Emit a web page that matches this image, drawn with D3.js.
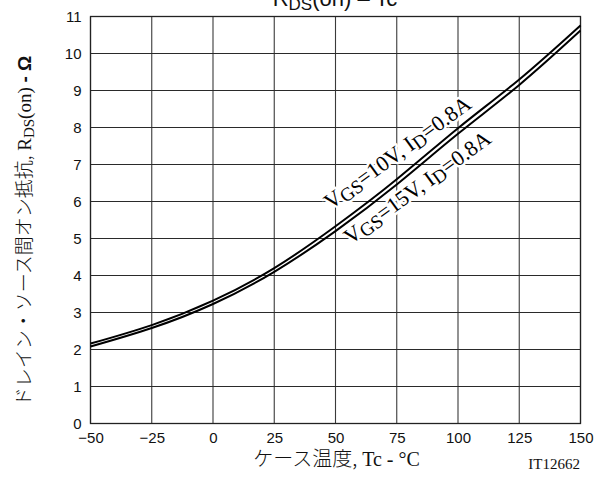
<!DOCTYPE html>
<html>
<head>
<meta charset="utf-8">
<script src="https://cdn.jsdelivr.net/npm/d3@7/dist/d3.min.js"></script>
<style>
  html, body { margin: 0; padding: 0; background: #fff; }
  svg { display: block; }
</style>
</head>
<body>
<svg id="chart" width="601" height="477"></svg>
<script>
// ---- data ----
const temps = [-50, -25, 0, 25, 50, 75, 100, 125, 150];
const rdsVgs10 = [2.16, 2.66, 3.32, 4.20, 5.33, 6.60, 7.98, 9.30, 10.76];
const rdsVgs15 = [2.08, 2.58, 3.23, 4.10, 5.20, 6.46, 7.83, 9.15, 10.62];
const xTicks = [-50, -25, 0, 25, 50, 75, 100, 125, 150];
const yTicks = [0, 1, 2, 3, 4, 5, 6, 7, 8, 9, 10, 11];
const labelPos = [{x: 75.2, y: 7.33}, {x: 83.3, y: 6.39}];

const svg = d3.select("#chart");
const x = d3.scaleLinear().domain([-50, 150]).range([90.5, 580.5]);
const y = d3.scaleLinear().domain([0, 11]).range([423.5, 16.5]);

const serif = "'Liberation Serif', 'DejaVu Serif', serif";
const sans = "'Liberation Sans', Arial, sans-serif";
const cjk = "'Noto Sans CJK JP', sans-serif";

// grid
const g = svg.append("g");
g.selectAll("line.v").data(xTicks).join("line")
  .attr("x1", d => x(d)).attr("x2", d => x(d))
  .attr("y1", y(0)).attr("y2", y(11))
  .attr("stroke", "#3a3a3a").attr("stroke-width", 1.1);
g.selectAll("line.h").data(yTicks).join("line")
  .attr("x1", x(-50)).attr("x2", x(150))
  .attr("y1", d => y(d)).attr("y2", d => y(d))
  .attr("stroke", "#2a2a2a").attr("stroke-width", 1.1);

// axes tick labels
const xAxis = d3.axisBottom(x).tickValues(xTicks).tickSize(0).tickPadding(9);
const xa = svg.append("g").attr("transform", `translate(0,${y(0)})`).call(xAxis);
xa.select(".domain").remove();
xa.selectAll("text").attr("font-family", sans).attr("font-size", 15).attr("fill", "#111");

const yAxis = d3.axisLeft(y).tickValues(yTicks).tickSize(0).tickPadding(9);
const ya = svg.append("g").attr("transform", `translate(${x(-50)},0)`).call(yAxis);
ya.select(".domain").remove();
ya.selectAll("text").attr("font-family", sans).attr("font-size", 15).attr("fill", "#111");

// frame
svg.append("rect").attr("x", x(-50)).attr("y", y(11))
  .attr("width", x(150) - x(-50)).attr("height", y(0) - y(11))
  .attr("fill", "none").attr("stroke", "#222").attr("stroke-width", 1.3);

// annotation labels (with white halo masking grid)
function addLabel(pos, vgs) {
  const t = svg.append("text")
    .attr("transform", `translate(${x(pos.x)},${y(pos.y)}) rotate(-36)`)
    .attr("text-anchor", "middle")
    .attr("dy", "0.35em")
    .attr("font-family", serif).attr("font-size", 22)
    .attr("fill", "#000")
    .attr("stroke", "#fff").attr("stroke-width", 5)
    .attr("paint-order", "stroke").attr("stroke-linejoin", "round");
  t.append("tspan").text("V");
  t.append("tspan").attr("font-size", 19).attr("dy", 3).text("GS");
  t.append("tspan").attr("dy", -3).text("=" + vgs + "V, I");
  t.append("tspan").attr("font-size", 19).attr("dy", 3).text("D");
  t.append("tspan").attr("dy", -3).text("=0.8A");
}
addLabel(labelPos[0], 10);
addLabel(labelPos[1], 15);

// curves
const line = d3.line().x(d => x(d[0])).y(d => y(d[1])).curve(d3.curveNatural);
[rdsVgs10, rdsVgs15].forEach(vals => {
  svg.append("path")
    .datum(temps.map((t, i) => [t, vals[i]]))
    .attr("d", line)
    .attr("fill", "none").attr("stroke", "#000").attr("stroke-width", 2);
});

// title (cut at top)
const title = svg.append("text")
  .attr("x", 335).attr("y", 6).attr("text-anchor", "middle")
  .attr("font-family", sans).attr("font-size", 22).attr("fill", "#111");
title.append("tspan").text("R");
title.append("tspan").attr("font-size", 17).attr("dy", 4).text("DS");
title.append("tspan").attr("dy", -4).text("(on)  \u2013  Tc");

// x label
const xl = svg.append("text")
  .attr("x", 336.5).attr("y", 466).attr("text-anchor", "middle")
  .attr("font-size", 20).attr("fill", "#111");
xl.append("tspan").attr("font-family", cjk).attr("font-weight", 300).text("ケース温度,");
xl.append("tspan").attr("font-family", serif).text(" Tc - °C");

svg.append("text")
  .attr("x", 580).attr("y", 469).attr("text-anchor", "end")
  .attr("font-family", serif).attr("font-size", 15).attr("fill", "#111")
  .text("IT12662");

// y label
const yl = svg.append("text")
  .attr("transform", "translate(31,231) rotate(-90)")
  .attr("text-anchor", "middle")
  .attr("font-size", 19).attr("fill", "#111");
yl.append("tspan").attr("font-family", cjk).attr("font-weight", 300).text("ドレイン・ソース間オン抵抗,");
yl.append("tspan").attr("font-family", serif).text(" R");
yl.append("tspan").attr("font-family", serif).attr("font-size", 15).attr("dy", 3).text("DS");
yl.append("tspan").attr("font-family", serif).attr("dy", -3).text("(on)  ");
yl.append("tspan").attr("font-family", sans).attr("font-weight", "bold").text("-  Ω");
</script>
</body>
</html>
